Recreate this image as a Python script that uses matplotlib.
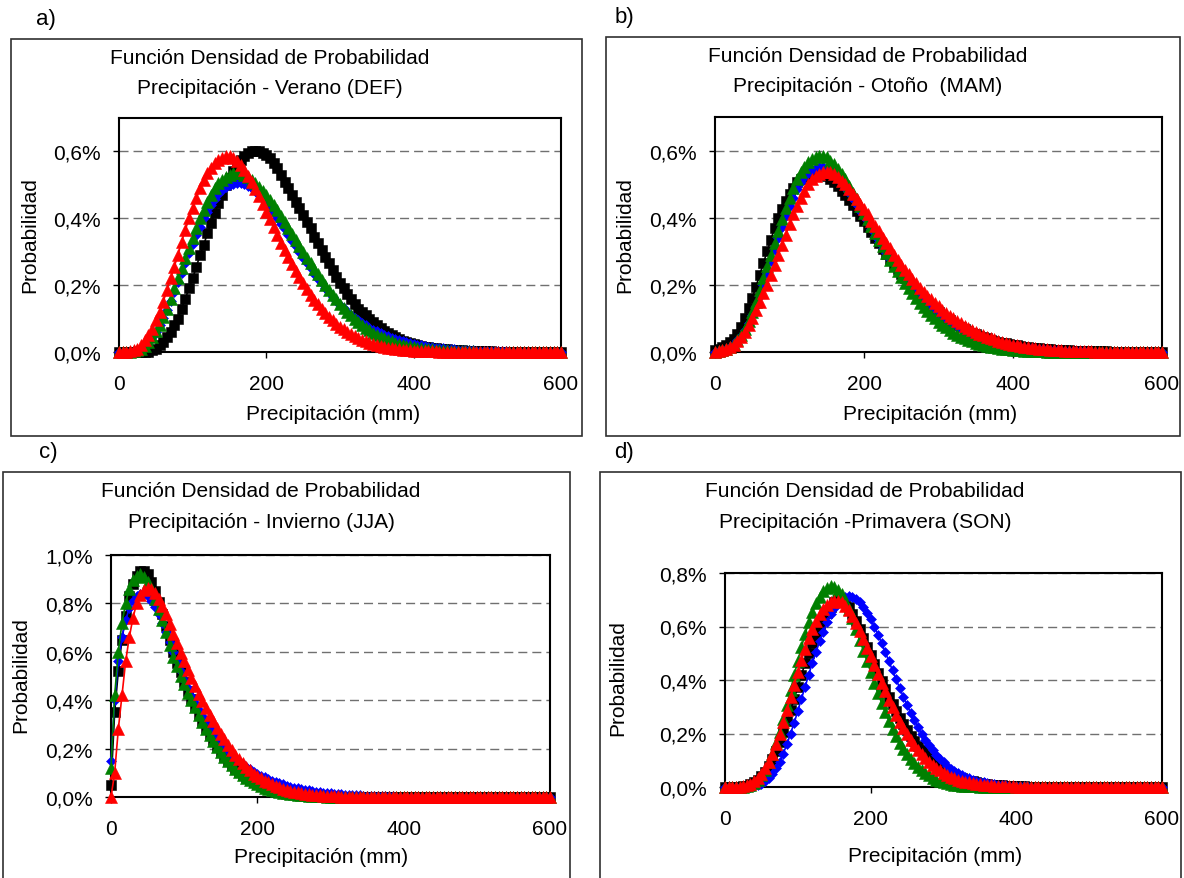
import numpy as np
import matplotlib
matplotlib.use("Agg")
import matplotlib.pyplot as plt
from matplotlib.patches import Rectangle
from matplotlib.ticker import FuncFormatter

plt.rcParams['font.family'] = ['Liberation Sans', 'DejaVu Sans']

# Eje de precipitación (mm), paso de 5 mm
precip = np.arange(0, 605, 5)

# Densidades (%) - Verano (DEF)
def_negro = [
    0, 0, 0, 0, 0, 0, 0, 0, 0, 0.005,
    0.01, 0.02, 0.03, 0.045, 0.06, 0.08, 0.10, 0.13, 0.16, 0.19,
    0.22, 0.255, 0.29, 0.32, 0.355, 0.385, 0.415, 0.445, 0.47, 0.50,
    0.52, 0.54, 0.56, 0.575, 0.585, 0.595, 0.60, 0.60, 0.60, 0.595,
    0.59, 0.58, 0.565, 0.55, 0.53, 0.51, 0.49, 0.47, 0.45, 0.43,
    0.41, 0.39, 0.37, 0.345, 0.325, 0.305, 0.285, 0.265, 0.245, 0.225,
    0.205, 0.19, 0.175, 0.16, 0.145, 0.13, 0.12, 0.11, 0.10, 0.09,
    0.08, 0.072, 0.064, 0.057, 0.05, 0.044, 0.039, 0.034, 0.03, 0.026,
    0.023, 0.02, 0.018, 0.016, 0.014, 0.012, 0.011, 0.01, 0.009, 0.008,
    0.007, 0.006, 0.005, 0.005, 0.004, 0.004, 0.003, 0.003, 0.002, 0.002,
    0.002, 0.002, 0.001, 0.001, 0.001, 0.001, 0.001, 0, 0, 0,
    0, 0, 0, 0, 0, 0, 0, 0, 0, 0,
    0]
def_azul = [
    0, 0, 0, 0.001, 0.003, 0.006, 0.011, 0.019, 0.03, 0.044,
    0.06, 0.08, 0.102, 0.126, 0.152, 0.18, 0.208, 0.237, 0.266, 0.295,
    0.323, 0.35, 0.375, 0.4, 0.42, 0.44, 0.458, 0.472, 0.485, 0.494,
    0.5, 0.504, 0.505, 0.505, 0.502, 0.497, 0.49, 0.481, 0.47, 0.458,
    0.445, 0.431, 0.416, 0.4, 0.384, 0.367, 0.35, 0.333, 0.316, 0.299,
    0.282, 0.266, 0.25, 0.234, 0.219, 0.205, 0.191, 0.178, 0.165, 0.153,
    0.142, 0.131, 0.121, 0.112, 0.103, 0.095, 0.087, 0.08, 0.073, 0.067,
    0.062, 0.056, 0.051, 0.047, 0.043, 0.039, 0.035, 0.032, 0.029, 0.027,
    0.024, 0.022, 0.02, 0.018, 0.016, 0.015, 0.013, 0.012, 0.011, 0.01,
    0.009, 0.008, 0.007, 0.007, 0.006, 0.005, 0.005, 0.004, 0.004, 0.003,
    0.003, 0.003, 0.002, 0.002, 0.002, 0.002, 0.001, 0.001, 0.001, 0.001,
    0.001, 0.001, 0, 0, 0, 0, 0, 0, 0, 0,
    0]
def_verde = [
    0, 0, 0, 0, 0.002, 0.005, 0.01, 0.018, 0.03, 0.045,
    0.062, 0.082, 0.105, 0.13, 0.16, 0.19, 0.22, 0.25, 0.28, 0.31,
    0.34, 0.37, 0.40, 0.425, 0.45, 0.47, 0.49, 0.505, 0.515, 0.525,
    0.53, 0.535, 0.535, 0.535, 0.53, 0.525, 0.515, 0.505, 0.495, 0.483,
    0.47, 0.455, 0.44, 0.424, 0.407, 0.39, 0.372, 0.354, 0.336, 0.318,
    0.3, 0.282, 0.265, 0.248, 0.232, 0.216, 0.2, 0.185, 0.171, 0.158,
    0.145, 0.133, 0.121, 0.11, 0.1, 0.09, 0.081, 0.073, 0.065, 0.058,
    0.052, 0.046, 0.041, 0.036, 0.032, 0.028, 0.025, 0.022, 0.019, 0.017,
    0.015, 0.013, 0.011, 0.01, 0.009, 0.008, 0.007, 0.006, 0.005, 0.005,
    0.004, 0.004, 0.003, 0.003, 0.002, 0.002, 0.002, 0.001, 0.001, 0.001,
    0.001, 0.001, 0, 0, 0, 0, 0, 0, 0, 0,
    0, 0, 0, 0, 0, 0, 0, 0, 0, 0,
    0]
def_rojo = [
    0, 0, 0, 0.002, 0.005, 0.01, 0.02, 0.035, 0.05, 0.07,
    0.095, 0.12, 0.15, 0.185, 0.22, 0.255, 0.29, 0.33, 0.365, 0.40,
    0.43, 0.46, 0.49, 0.515, 0.535, 0.55, 0.565, 0.575, 0.58, 0.585,
    0.585, 0.58, 0.57, 0.56, 0.545, 0.527, 0.508, 0.488, 0.466, 0.443,
    0.42, 0.397, 0.373, 0.35, 0.327, 0.304, 0.283, 0.262, 0.242, 0.223,
    0.205, 0.188, 0.172, 0.157, 0.143, 0.13, 0.117, 0.106, 0.095, 0.085,
    0.076, 0.068, 0.06, 0.053, 0.047, 0.041, 0.036, 0.032, 0.028, 0.024,
    0.021, 0.018, 0.015, 0.013, 0.011, 0.01, 0.008, 0.007, 0.006, 0.005,
    0.004, 0.004, 0.003, 0.003, 0.002, 0.002, 0.002, 0.001, 0.001, 0.001,
    0.001, 0, 0, 0, 0, 0, 0, 0, 0, 0,
    0, 0, 0, 0, 0, 0, 0, 0, 0, 0,
    0, 0, 0, 0, 0, 0, 0, 0, 0, 0,
    0]

# Densidades (%) - Otoño (MAM)
mam_negro = [
    0.005, 0.01, 0.015, 0.02, 0.03, 0.04, 0.055, 0.075, 0.10, 0.13,
    0.16, 0.195, 0.23, 0.265, 0.30, 0.335, 0.37, 0.40, 0.425, 0.45,
    0.47, 0.49, 0.505, 0.515, 0.525, 0.53, 0.535, 0.535, 0.535, 0.53,
    0.525, 0.515, 0.505, 0.493, 0.48, 0.467, 0.452, 0.437, 0.421, 0.406,
    0.39, 0.373, 0.357, 0.34, 0.324, 0.308, 0.292, 0.277, 0.262, 0.247,
    0.233, 0.219, 0.206, 0.193, 0.181, 0.169, 0.158, 0.147, 0.137, 0.127,
    0.118, 0.11, 0.102, 0.094, 0.087, 0.08, 0.074, 0.068, 0.063, 0.058,
    0.053, 0.049, 0.045, 0.041, 0.037, 0.034, 0.031, 0.028, 0.026, 0.024,
    0.022, 0.02, 0.018, 0.016, 0.015, 0.013, 0.012, 0.011, 0.01, 0.009,
    0.008, 0.007, 0.007, 0.006, 0.005, 0.005, 0.004, 0.004, 0.004, 0.003,
    0.003, 0.003, 0.002, 0.002, 0.002, 0.002, 0.001, 0.001, 0.001, 0.001,
    0.001, 0.001, 0.001, 0, 0, 0, 0, 0, 0, 0,
    0]
mam_azul = [
    0, 0.002, 0.005, 0.01, 0.016, 0.024, 0.035, 0.049, 0.066, 0.086,
    0.11, 0.137, 0.167, 0.2, 0.235, 0.27, 0.305, 0.34, 0.373, 0.405,
    0.435, 0.46, 0.485, 0.505, 0.52, 0.533, 0.542, 0.548, 0.55, 0.55,
    0.547, 0.54, 0.53, 0.518, 0.504, 0.489, 0.473, 0.456, 0.438, 0.42,
    0.402, 0.383, 0.365, 0.347, 0.329, 0.311, 0.294, 0.277, 0.261, 0.245,
    0.23, 0.216, 0.202, 0.189, 0.176, 0.164, 0.153, 0.142, 0.132, 0.122,
    0.113, 0.105, 0.097, 0.089, 0.082, 0.076, 0.07, 0.064, 0.059, 0.054,
    0.049, 0.045, 0.041, 0.037, 0.034, 0.031, 0.028, 0.025, 0.023, 0.021,
    0.019, 0.017, 0.015, 0.013, 0.012, 0.011, 0.01, 0.009, 0.008, 0.007,
    0.006, 0.005, 0.005, 0.004, 0.004, 0.003, 0.003, 0.002, 0.002, 0.002,
    0.001, 0.001, 0.001, 0.001, 0, 0, 0, 0, 0, 0,
    0, 0, 0, 0, 0, 0, 0, 0, 0, 0,
    0]
mam_verde = [
    0, 0.002, 0.005, 0.01, 0.016, 0.025, 0.037, 0.052, 0.07, 0.092,
    0.12, 0.15, 0.185, 0.22, 0.255, 0.29, 0.325, 0.36, 0.395, 0.43,
    0.46, 0.49, 0.515, 0.535, 0.55, 0.565, 0.575, 0.58, 0.585, 0.585,
    0.58, 0.57, 0.56, 0.545, 0.53, 0.515, 0.495, 0.475, 0.455, 0.435,
    0.415, 0.395, 0.375, 0.355, 0.335, 0.315, 0.295, 0.275, 0.255, 0.24,
    0.222, 0.206, 0.19, 0.175, 0.16, 0.147, 0.134, 0.122, 0.111, 0.1,
    0.09, 0.081, 0.073, 0.065, 0.058, 0.052, 0.046, 0.041, 0.036, 0.032,
    0.028, 0.025, 0.022, 0.019, 0.016, 0.014, 0.012, 0.01, 0.009, 0.008,
    0.007, 0.006, 0.005, 0.004, 0.003, 0.003, 0.002, 0.002, 0.002, 0.001,
    0.001, 0.001, 0.001, 0, 0, 0, 0, 0, 0, 0,
    0, 0, 0, 0, 0, 0, 0, 0, 0, 0,
    0, 0, 0, 0, 0, 0, 0, 0, 0, 0,
    0]
mam_rojo = [
    0, 0.002, 0.005, 0.01, 0.015, 0.022, 0.032, 0.045, 0.06, 0.08,
    0.10, 0.125, 0.15, 0.175, 0.20, 0.23, 0.26, 0.29, 0.32, 0.35,
    0.38, 0.41, 0.435, 0.46, 0.48, 0.50, 0.515, 0.525, 0.53, 0.535,
    0.535, 0.535, 0.53, 0.52, 0.51, 0.50, 0.485, 0.47, 0.455, 0.44,
    0.425, 0.41, 0.39, 0.375, 0.36, 0.34, 0.325, 0.31, 0.29, 0.275,
    0.26, 0.245, 0.232, 0.218, 0.205, 0.192, 0.18, 0.168, 0.157, 0.146,
    0.136, 0.126, 0.117, 0.108, 0.1, 0.092, 0.085, 0.078, 0.072, 0.066,
    0.06, 0.055, 0.05, 0.046, 0.042, 0.038, 0.034, 0.031, 0.028, 0.025,
    0.022, 0.02, 0.018, 0.016, 0.014, 0.012, 0.011, 0.01, 0.009, 0.008,
    0.007, 0.006, 0.005, 0.005, 0.004, 0.004, 0.003, 0.003, 0.002, 0.002,
    0.002, 0.002, 0.001, 0.001, 0.001, 0.001, 0, 0, 0, 0,
    0, 0, 0, 0, 0, 0, 0, 0, 0, 0,
    0]

# Densidades (%) - Invierno (JJA)
jja_negro = [
    0.05, 0.35, 0.52, 0.65, 0.75, 0.83, 0.88, 0.915, 0.935, 0.935,
    0.92, 0.89, 0.85, 0.805, 0.755, 0.705, 0.65, 0.6, 0.555, 0.515,
    0.475, 0.44, 0.405, 0.372, 0.342, 0.312, 0.285, 0.259, 0.234, 0.21,
    0.188, 0.168, 0.15, 0.133, 0.118, 0.104, 0.092, 0.081, 0.071, 0.062,
    0.054, 0.047, 0.041, 0.035, 0.03, 0.026, 0.022, 0.019, 0.016, 0.014,
    0.012, 0.01, 0.008, 0.007, 0.006, 0.005, 0.004, 0.003, 0.003, 0.002,
    0.002, 0.001, 0.001, 0, 0, 0, 0, 0, 0, 0,
    0, 0, 0, 0, 0, 0, 0, 0, 0, 0,
    0, 0, 0, 0, 0, 0, 0, 0, 0, 0,
    0, 0, 0, 0, 0, 0, 0, 0, 0, 0,
    0, 0, 0, 0, 0, 0, 0, 0, 0, 0,
    0, 0, 0, 0, 0, 0, 0, 0, 0, 0,
    0]
jja_azul = [
    0.15, 0.4, 0.56, 0.66, 0.73, 0.78, 0.81, 0.83, 0.84, 0.838,
    0.83, 0.81, 0.785, 0.755, 0.72, 0.68, 0.64, 0.6, 0.56, 0.52,
    0.485, 0.45, 0.418, 0.388, 0.36, 0.333, 0.308, 0.285, 0.263, 0.243,
    0.224, 0.206, 0.19, 0.175, 0.161, 0.148, 0.136, 0.125, 0.115, 0.105,
    0.096, 0.088, 0.081, 0.074, 0.068, 0.062, 0.057, 0.052, 0.047, 0.043,
    0.039, 0.036, 0.033, 0.03, 0.027, 0.025, 0.022, 0.02, 0.018, 0.017,
    0.015, 0.014, 0.013, 0.011, 0.01, 0.009, 0.008, 0.008, 0.007, 0.006,
    0.006, 0.005, 0.005, 0.004, 0.004, 0.003, 0.003, 0.003, 0.002, 0.002,
    0.002, 0.002, 0.001, 0.001, 0.001, 0.001, 0, 0, 0, 0,
    0, 0, 0, 0, 0, 0, 0, 0, 0, 0,
    0, 0, 0, 0, 0, 0, 0, 0, 0, 0,
    0, 0, 0, 0, 0, 0, 0, 0, 0, 0,
    0]
jja_verde = [
    0.12, 0.42, 0.6, 0.72, 0.8, 0.86, 0.895, 0.915, 0.92, 0.91,
    0.89, 0.86, 0.82, 0.775, 0.73, 0.68, 0.63, 0.58, 0.54, 0.5,
    0.465, 0.43, 0.4, 0.37, 0.34, 0.31, 0.283, 0.257, 0.232, 0.208,
    0.186, 0.166, 0.148, 0.131, 0.116, 0.102, 0.09, 0.079, 0.069, 0.06,
    0.052, 0.045, 0.039, 0.034, 0.029, 0.025, 0.021, 0.018, 0.015, 0.013,
    0.011, 0.009, 0.008, 0.007, 0.006, 0.005, 0.004, 0.003, 0.003, 0.002,
    0.002, 0.001, 0.001, 0, 0, 0, 0, 0, 0, 0,
    0, 0, 0, 0, 0, 0, 0, 0, 0, 0,
    0, 0, 0, 0, 0, 0, 0, 0, 0, 0,
    0, 0, 0, 0, 0, 0, 0, 0, 0, 0,
    0, 0, 0, 0, 0, 0, 0, 0, 0, 0,
    0, 0, 0, 0, 0, 0, 0, 0, 0, 0,
    0]
jja_rojo = [
    0, 0.1, 0.28, 0.42, 0.56, 0.66, 0.74, 0.8, 0.835, 0.855,
    0.865, 0.86, 0.845, 0.82, 0.79, 0.755, 0.715, 0.675, 0.635, 0.595,
    0.56, 0.525, 0.49, 0.458, 0.427, 0.397, 0.368, 0.34, 0.313, 0.287,
    0.262, 0.238, 0.215, 0.194, 0.174, 0.156, 0.139, 0.124, 0.11, 0.097,
    0.087, 0.077, 0.068, 0.06, 0.053, 0.046, 0.04, 0.035, 0.03, 0.026,
    0.022, 0.019, 0.016, 0.014, 0.012, 0.01, 0.008, 0.007, 0.006, 0.005,
    0.004, 0.003, 0.003, 0.002, 0.002, 0.001, 0.001, 0.001, 0, 0,
    0, 0, 0, 0, 0, 0, 0, 0, 0, 0,
    0, 0, 0, 0, 0, 0, 0, 0, 0, 0,
    0, 0, 0, 0, 0, 0, 0, 0, 0, 0,
    0, 0, 0, 0, 0, 0, 0, 0, 0, 0,
    0, 0, 0, 0, 0, 0, 0, 0, 0, 0,
    0]

# Densidades (%) - Primavera (SON)
son_negro = [
    0, 0, 0, 0, 0, 0.002, 0.005, 0.01, 0.017, 0.027,
    0.04, 0.057, 0.078, 0.103, 0.133, 0.167, 0.205, 0.245, 0.288, 0.33,
    0.375, 0.42, 0.462, 0.502, 0.54, 0.573, 0.603, 0.628, 0.65, 0.672,
    0.69, 0.698, 0.7, 0.69, 0.672, 0.648, 0.62, 0.59, 0.558, 0.525,
    0.492, 0.46, 0.428, 0.397, 0.367, 0.338, 0.31, 0.283, 0.258, 0.234,
    0.212, 0.191, 0.172, 0.154, 0.138, 0.123, 0.109, 0.097, 0.086, 0.076,
    0.067, 0.058, 0.051, 0.044, 0.038, 0.033, 0.028, 0.024, 0.021, 0.018,
    0.015, 0.013, 0.011, 0.009, 0.008, 0.007, 0.006, 0.005, 0.004, 0.003,
    0.003, 0.002, 0.002, 0.001, 0.001, 0, 0, 0, 0, 0,
    0, 0, 0, 0, 0, 0, 0, 0, 0, 0,
    0, 0, 0, 0, 0, 0, 0, 0, 0, 0,
    0, 0, 0, 0, 0, 0, 0, 0, 0, 0,
    0]
son_azul = [
    0, 0, 0, 0, 0, 0, 0, 0, 0.003, 0.007,
    0.013, 0.022, 0.034, 0.05, 0.07, 0.095, 0.125, 0.16, 0.2, 0.24,
    0.285, 0.33, 0.375, 0.42, 0.465, 0.505, 0.545, 0.58, 0.615, 0.645,
    0.67, 0.69, 0.705, 0.712, 0.715, 0.712, 0.703, 0.69, 0.673, 0.652,
    0.628, 0.6, 0.57, 0.538, 0.505, 0.47, 0.436, 0.402, 0.369, 0.337,
    0.306, 0.277, 0.249, 0.223, 0.199, 0.177, 0.157, 0.138, 0.121, 0.106,
    0.092, 0.08, 0.069, 0.06, 0.052, 0.045, 0.038, 0.033, 0.028, 0.024,
    0.02, 0.017, 0.015, 0.012, 0.01, 0.009, 0.007, 0.006, 0.005, 0.004,
    0.004, 0.003, 0.002, 0.002, 0.001, 0.001, 0, 0, 0, 0,
    0, 0, 0, 0, 0, 0, 0, 0, 0, 0,
    0, 0, 0, 0, 0, 0, 0, 0, 0, 0,
    0, 0, 0, 0, 0, 0, 0, 0, 0, 0,
    0]
son_verde = [
    0, 0, 0, 0, 0, 0, 0.003, 0.008, 0.016, 0.028,
    0.044, 0.065, 0.092, 0.125, 0.163, 0.207, 0.255, 0.307, 0.362, 0.418,
    0.472, 0.524, 0.572, 0.615, 0.653, 0.686, 0.712, 0.732, 0.745, 0.75,
    0.748, 0.738, 0.72, 0.695, 0.665, 0.63, 0.59, 0.55, 0.51, 0.47,
    0.43, 0.39, 0.35, 0.315, 0.28, 0.248, 0.218, 0.19, 0.165, 0.142,
    0.122, 0.104, 0.088, 0.074, 0.062, 0.052, 0.043, 0.035, 0.028, 0.023,
    0.018, 0.014, 0.011, 0.009, 0.007, 0.005, 0.004, 0.003, 0.002, 0.002,
    0.001, 0, 0, 0, 0, 0, 0, 0, 0, 0,
    0, 0, 0, 0, 0, 0, 0, 0, 0, 0,
    0, 0, 0, 0, 0, 0, 0, 0, 0, 0,
    0, 0, 0, 0, 0, 0, 0, 0, 0, 0,
    0, 0, 0, 0, 0, 0, 0, 0, 0, 0,
    0]
son_rojo = [
    0, 0, 0, 0, 0, 0.003, 0.007, 0.013, 0.022, 0.034,
    0.05, 0.07, 0.095, 0.125, 0.16, 0.2, 0.243, 0.289, 0.336, 0.383,
    0.43, 0.475, 0.517, 0.556, 0.59, 0.62, 0.645, 0.665, 0.68, 0.69,
    0.695, 0.695, 0.69, 0.678, 0.66, 0.638, 0.612, 0.583, 0.553, 0.521,
    0.489, 0.456, 0.423, 0.39, 0.358, 0.327, 0.298, 0.27, 0.244, 0.22,
    0.197, 0.176, 0.157, 0.139, 0.123, 0.108, 0.095, 0.083, 0.072, 0.062,
    0.054, 0.046, 0.039, 0.033, 0.028, 0.024, 0.02, 0.017, 0.014, 0.012,
    0.01, 0.008, 0.007, 0.006, 0.005, 0.004, 0.003, 0.003, 0.002, 0.002,
    0.001, 0, 0, 0, 0, 0, 0, 0, 0, 0,
    0, 0, 0, 0, 0, 0, 0, 0, 0, 0,
    0, 0, 0, 0, 0, 0, 0, 0, 0, 0,
    0, 0, 0, 0, 0, 0, 0, 0, 0, 0,
    0]

titulo_1 = 'Función Densidad de Probabilidad'
paneles = [
    dict(letra='a)', sub='Precipitación - Verano (DEF)',
         series=[def_negro, def_azul, def_verde, def_rojo],
         marco=(11, 40, 582, 437), area=(119, 119, 561, 353),
         tit_x=270, tit_y=(59, 88), letra_xy=(46, 20),
         ylab_xy=(30, 235), xlab_xy=(333, 415),
         ymax=0.7, yticks=[0, 0.2, 0.4, 0.6]),
    dict(letra='b)', sub='Precipitación - Otoño  (MAM)',
         series=[mam_negro, mam_azul, mam_verde, mam_rojo],
         marco=(606, 38, 1180, 437), area=(715, 118, 1162, 353),
         tit_x=868, tit_y=(57, 87), letra_xy=(624, 18),
         ylab_xy=(625, 235), xlab_xy=(930, 415),
         ymax=0.7, yticks=[0, 0.2, 0.4, 0.6]),
    dict(letra='c)', sub='Precipitación - Invierno (JJA)',
         series=[jja_negro, jja_azul, jja_verde, jja_rojo],
         marco=(3, 473, 570, 885), area=(111, 556, 550, 798),
         tit_x=261, tit_y=(492, 523), letra_xy=(48, 453),
         ylab_xy=(21, 675), xlab_xy=(321, 858),
         ymax=1.0, yticks=[0, 0.2, 0.4, 0.6, 0.8, 1.0]),
    dict(letra='d)', sub='Precipitación -Primavera (SON)',
         series=[son_negro, son_azul, son_verde, son_rojo],
         marco=(600, 473, 1181, 885), area=(725, 574, 1162, 788),
         tit_x=865, tit_y=(492, 523), letra_xy=(624, 453),
         ylab_xy=(618, 678), xlab_xy=(935, 857),
         ymax=0.8, yticks=[0, 0.2, 0.4, 0.6, 0.8]),
]

# estilo de cada serie: color, marcador, tamaño
estilos = [('#000000', 's', 7.0), ('#0000ff', 'D', 5.6),
           ('#008000', '^', 8.0), ('#ff0000', '^', 8.0)]

W, H = 1184, 879
fig = plt.figure(figsize=(W / 100, H / 100), dpi=100)


def rect_fig(x0, y0, x1, y1):
    # pasa un rectángulo en píxeles (origen arriba a la izquierda) a coordenadas de figura
    return [x0 / W, 1 - y1 / H, (x1 - x0) / W, (y1 - y0) / H]


def texto(x, y, s, size=15, **kw):
    fig.text(x / W, 1 - y / H, s, fontsize=size, ha='center', va='center', **kw)


fmt_pct = FuncFormatter(lambda v, pos: f'{v:.1f}%'.replace('.', ','))

for p in paneles:
    # marco exterior del gráfico
    x, y, w, h = rect_fig(*p['marco'])
    fig.patches.append(Rectangle((x, y), w, h, transform=fig.transFigure,
                                 fill=False, edgecolor='#303030', linewidth=1.2))
    texto(*p['letra_xy'], p['letra'], size=16)
    texto(p['tit_x'], p['tit_y'][0], titulo_1)
    texto(p['tit_x'], p['tit_y'][1], p['sub'])
    texto(*p['ylab_xy'], 'Probabilidad', rotation=90)
    texto(*p['xlab_xy'], 'Precipitación (mm)')

    ax = fig.add_axes(rect_fig(*p['area']))
    for serie, (color, marca, tam) in zip(p['series'], estilos):
        ax.plot(precip, serie, color=color, lw=1.2, marker=marca, ms=tam,
                mfc=color, mec=color, mew=0.4, clip_on=False, zorder=4)

    ax.set_xlim(0, 600)
    ax.set_ylim(0, p['ymax'])
    ax.set_xticks([0, 200, 400, 600])
    ax.set_yticks(p['yticks'])
    ax.yaxis.set_major_formatter(fmt_pct)
    ax.yaxis.grid(True, color='#707070', linestyle=(0, (6.5, 3.6)), linewidth=1.0)
    ax.set_axisbelow(True)
    for sp in ax.spines.values():
        sp.set_linewidth(1.5)
        sp.set_color('black')
    ax.tick_params(axis='both', direction='out', length=4, width=1,
                   labelsize=15, color='black')
    ax.tick_params(axis='x', pad=12)
    ax.tick_params(axis='y', pad=9)

fig.savefig('out.png', dpi=100)
